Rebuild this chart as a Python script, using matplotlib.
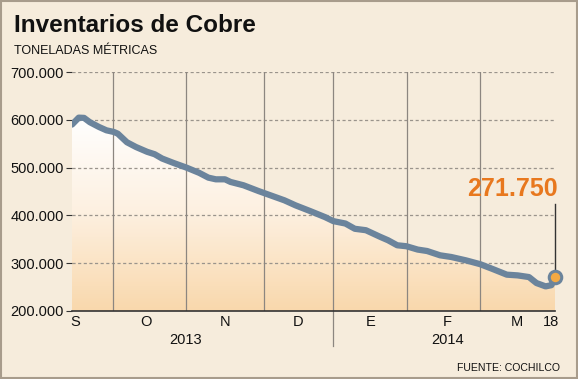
import numpy as np
import matplotlib
matplotlib.use("Agg")
import matplotlib.pyplot as plt
from matplotlib.colors import LinearSegmentedColormap
from matplotlib.patches import Rectangle
import matplotlib.transforms as mtransforms

# dias desde el inicio de la serie (mediados de septiembre 2013)
dias = [0, 2.8, 5, 7.4, 11.2, 14.3, 17.4, 19, 22.8, 26.6, 31.2, 34.3, 37.4, 42,
        47.5, 52.8, 56.6, 59.7, 63.5, 65.8, 71.2, 77.4, 83.5, 88.2, 92.8, 98.9,
        105, 108.5, 113.5, 117.4, 122, 125, 128, 131.2, 135, 138.8, 143.5,
        147.4, 152.8, 157.4, 163.5, 169.4, 174.3, 180.5, 185, 189.7, 192.8,
        196.6, 199, 200.5]
# miles de toneladas
inventario = [590, 604.5, 604, 595, 585, 578, 574.5, 571, 553, 543, 533, 528,
              519, 510, 500, 489, 479, 475.5, 475.5, 470, 463, 451, 440, 431.5,
              421, 409, 396.5, 388, 383, 372, 369, 362, 355, 348, 337.5, 335.5,
              328.5, 325.5, 316.5, 313, 306, 298, 288.5, 276, 274.5, 271, 258.5,
              251.5, 254, 271.75]

limites_mes = [17.1, 47.5, 79.5, 108.5, 139.2, 169.4]
meses = ["S", "O", "N", "D", "E", "F", "M", "18"]
pos_meses = [1.3, 30.6, 63.5, 93.7, 124, 155.8, 184.5, 198.9]
anios = ["2013", "2014"]
pos_anios = [47, 156]
yticks = [200, 300, 400, 500, 600, 700]

bg = "#f6ecdc"
linea = "#6b849c"
naranja = "#e8781e"
plt.rcParams["font.family"] = ["Liberation Sans", "DejaVu Sans"]

fig = plt.figure(figsize=(5.78, 3.79), dpi=100, facecolor=bg)
ax = fig.add_axes([72/578, 1 - 311/379, 483/578, 239/379])
ax.set_facecolor(bg)
ax.set_xlim(0, 200.5)
ax.set_ylim(200, 700)

# relleno con degradado bajo la linea
cmap = LinearSegmentedColormap.from_list("g", ["#f9d8ac", "#fdf0e0", "#ffffff"])
grad = np.linspace(0, 1, 256).reshape(-1, 1)
img = ax.imshow(grad, cmap=cmap, aspect="auto", origin="lower",
                extent=[0, 200.5, 200, 610], zorder=1)
poly = ax.fill_between(dias, inventario, 200, color="none", zorder=1)
clip = poly.get_paths()[0]
img.set_clip_path(clip, transform=ax.transData)

for v in yticks[1:]:
    ax.axhline(v, color="#9a948c", lw=0.9, ls=(0, (2.5, 2)), zorder=2)
for x in limites_mes:
    ax.axvline(x, color="#8c8680", lw=0.9, zorder=2)

ax.plot(dias, inventario, color=linea, lw=4.5, solid_capstyle="round",
        solid_joinstyle="round", zorder=3)
ax.plot(dias[-1], inventario[-1], "o", ms=9, mfc="#f2a944", mec=linea, mew=2.2,
        zorder=5, clip_on=False)
ax.plot([dias[-1], dias[-1]], [inventario[-1] + 6, 424], color="#333333",
        lw=1, zorder=4, clip_on=False)
ax.text(dias[-1] + 1.2, 431, "271.750", color=naranja, fontsize=18,
        fontweight="bold", ha="right", va="bottom")

for s in ["top", "right", "left"]:
    ax.spines[s].set_visible(False)
ax.spines["bottom"].set_color("#333333")
ax.spines["bottom"].set_linewidth(1.2)
ax.spines["bottom"].set_zorder(4)

ax.set_yticks(yticks)
ax.set_yticklabels([f"{v * 1000:,}".replace(",", ".") for v in yticks],
                   fontsize=10.5, color="#111111")
ax.tick_params(axis="y", length=4, color="#333333", pad=2)
ax.set_xticks([])

trans = mtransforms.blended_transform_factory(ax.transData, fig.transFigure)
for lab, x in zip(meses, pos_meses):
    ax.text(x, 1 - 322/379, lab, transform=trans, ha="center", va="center",
            fontsize=10.5, color="#111111")
for lab, x in zip(anios, pos_anios):
    ax.text(x, 1 - 340/379, lab, transform=trans, ha="center", va="center",
            fontsize=10.5, color="#111111")
ax.plot([108.5, 108.5], [1 - 311/379, 1 - 346/379], transform=trans,
        color="#8c8680", lw=0.9, clip_on=False)

fig.text(14/578, 1 - 26/379, "Inventarios de Cobre", fontsize=17.5,
         fontweight="bold", va="center", ha="left", color="#111111")
fig.text(14/578, 1 - 51.5/379, "TONELADAS MÉTRICAS", fontsize=9,
         va="center", ha="left", color="#111111")
fig.text(560/578, 1 - 368/379, "FUENTE: COCHILCO", fontsize=7.6,
         va="center", ha="right", color="#111111")

fig.patches.append(Rectangle((0.002, 0.003), 0.996, 0.994, transform=fig.transFigure,
                             fill=False, ec="#a89c8c", lw=1.5))

fig.savefig("out.png", dpi=100, facecolor=bg)
